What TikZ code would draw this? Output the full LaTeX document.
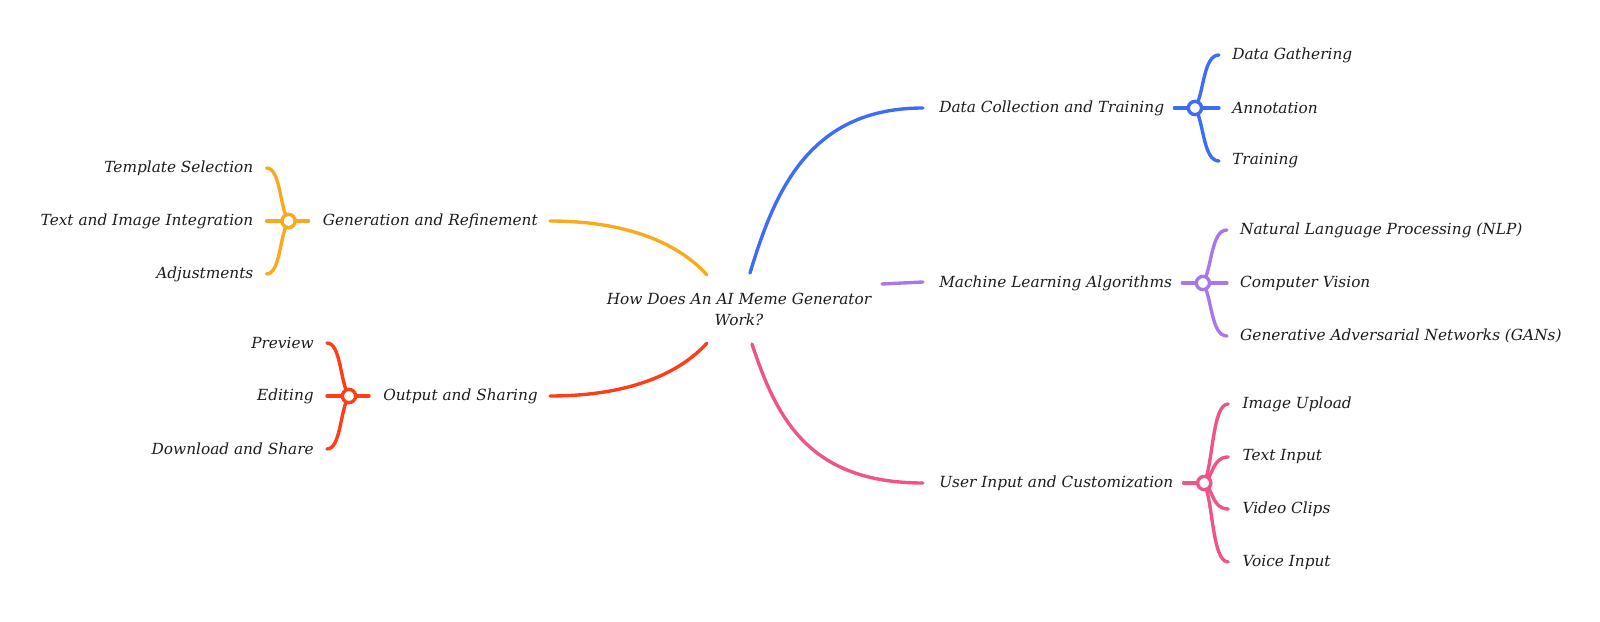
\documentclass[tikz,border=0pt]{standalone}
\usepackage{fontspec}
\setmainfont{DejaVu Serif}
\usetikzlibrary{positioning,calc}
\definecolor{cblue}{RGB}{61,108,247}
\definecolor{cpurple}{RGB}{166,120,236}
\definecolor{cpink}{RGB}{240,82,138}
\definecolor{corange}{RGB}{250,168,28}
\definecolor{cred}{RGB}{255,62,24}
\definecolor{ctext}{RGB}{28,28,30}

\begin{document}
\begin{tikzpicture}[
  x=0.025cm,y=-0.025cm,
  font=\itshape\fontsize{10.9}{15}\selectfont,
  lbl/.style={text=ctext,inner sep=0pt},
  hub/.style={circle,draw,fill=white,line width=2.4pt,minimum size=0.33cm,inner sep=0pt},
  link/.style={line width=2.4pt,line cap=round}
]
  \useasboundingbox (0,0) rectangle (1600,622);

  % centre
  \node[lbl,align=center] (root) at (739,309) {How Does An AI Meme Generator\\Work?};
  \coordinate (r-gar) at ($(root)+(-32,-34)$);
  \coordinate (r-oas) at ($(root)+(-32,34)$);
  \coordinate (r-dct) at ($(root)+(11,-36)$);
  \coordinate (r-mla) at ($(root)+(143,-25)$);
  \coordinate (r-uic) at ($(root)+(13,35)$);

  % branches
  \node[lbl,anchor=west] (dct) at (939,108) {Data Collection and Training};
  \node[lbl,anchor=west] (mla) at (939,283) {Machine Learning Algorithms};
  \node[lbl,anchor=west] (uic) at (939,483) {User Input and Customization};
  \node[lbl,anchor=east] (gar) at (538,221) {Generation and Refinement};
  \node[lbl,anchor=east] (oas) at (538,396) {Output and Sharing};

  \draw[link,cblue] (r-dct) .. controls ($(r-dct)+(25,-83)$) and ($(dct.west)+(-129,0)$) .. ($(dct.west)+(-16,0)$);
  \draw[link,cpurple] (r-mla) -- ($(mla.west)+(-16,-1)$);
  \draw[link,cpink] (r-uic) .. controls ($(r-uic)+(25,76)$) and ($(uic.west)+(-129,0)$) .. ($(uic.west)+(-16,0)$);
  \draw[link,corange] (r-gar) .. controls ($(r-gar)+(-27,-30)$) and ($(gar.east)+(92,0)$) .. ($(gar.east)+(12,0)$);
  \draw[link,cred] (r-oas) .. controls ($(r-oas)+(-27,30)$) and ($(oas.east)+(92,0)$) .. ($(oas.east)+(12,0)$);

  % hubs
  \coordinate[right=0.765cm of dct] (dct-h);
  \coordinate[right=0.765cm of mla] (mla-h);
  \coordinate[right=0.765cm of uic] (uic-h);
  \coordinate[left=0.85cm of gar] (gar-h);
  \coordinate[left=0.85cm of oas] (oas-h);

  \draw[link,cblue] ($(dct.east)+(10,0)$) -- (dct-h);
  \draw[link,cpurple] ($(mla.east)+(10,0)$) -- (mla-h);
  \draw[link,cpink] ($(uic.east)+(10,0)$) -- (uic-h);
  \draw[link,corange] (gar-h) -- ($(gar.west)+(-14,0)$);
  \draw[link,cred] (oas-h) -- ($(oas.west)+(-14,0)$);

  % leaves
  \foreach \nm/\dy/\lname in {dg/-53/Data Gathering,an/0/Annotation,tr/53/Training}{
    \node[lbl,anchor=west] (\nm) at ($(dct-h)+(37,\dy)$) {\lname};
    \draw[link,cblue] (dct-h) .. controls ($(dct-h)+(9,0.25*\dy)$) and ($(dct-h)+(8,\dy)$) .. ($(\nm.west)+(-13,0)$);
  }
  \foreach \nm/\dy/\lname in {nlp/-53/Natural Language Processing (NLP),cv/0/Computer Vision,gan/53/Generative Adversarial Networks (GANs)}{
    \node[lbl,anchor=west] (\nm) at ($(mla-h)+(37,\dy)$) {\lname};
    \draw[link,cpurple] (mla-h) .. controls ($(mla-h)+(9,0.25*\dy)$) and ($(mla-h)+(8,\dy)$) .. ($(\nm.west)+(-13,0)$);
  }
  \foreach \nm/\dy/\lname in {iu/-79/Image Upload,ti/-26/Text Input,vc/26/Video Clips,vi/79/Voice Input}{
    \node[lbl,anchor=west] (\nm) at ($(uic-h)+(38,\dy)$) {\lname};
    \draw[link,cpink] (uic-h) .. controls ($(uic-h)+(9,0.25*\dy)$) and ($(uic-h)+(8,\dy)$) .. ($(\nm.west)+(-14,0)$);
  }
  \foreach \nm/\dy/\lname in {ts/-53/Template Selection,tii/0/Text and Image Integration,adj/53/Adjustments}{
    \node[lbl,anchor=east] (\nm) at ($(gar-h)+(-35,\dy)$) {\lname};
    \draw[link,corange] (gar-h) .. controls ($(gar-h)+(-9,0.25*\dy)$) and ($(gar-h)+(-8,\dy)$) .. ($(\nm.east)+(13,0)$);
  }
  \foreach \nm/\dy/\lname in {pv/-53/Preview,ed/0/Editing,ds/53/Download and Share}{
    \node[lbl,anchor=east] (\nm) at ($(oas-h)+(-35,\dy)$) {\lname};
    \draw[link,cred] (oas-h) .. controls ($(oas-h)+(-9,0.25*\dy)$) and ($(oas-h)+(-8,\dy)$) .. ($(\nm.east)+(13,0)$);
  }

  \node[hub,draw=cblue] (dct-hub) at (dct-h) {};
  \node[hub,draw=cpurple] (mla-hub) at (mla-h) {};
  \node[hub,draw=cpink] (uic-hub) at (uic-h) {};
  \node[hub,draw=corange] (gar-hub) at (gar-h) {};
  \node[hub,draw=cred] (oas-hub) at (oas-h) {};
\end{tikzpicture}
\end{document}
